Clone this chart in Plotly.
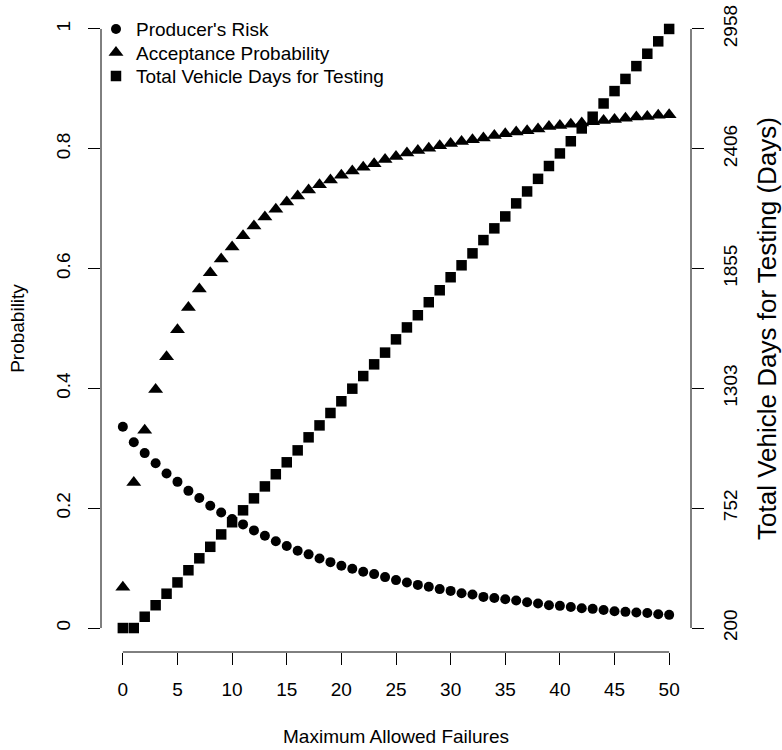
import plotly.graph_objects as go

failures = list(range(51))

producers_risk = [0.336, 0.310, 0.292, 0.275, 0.258, 0.244, 0.229, 0.217, 0.204, 0.193,
                  0.182, 0.173, 0.163, 0.154, 0.145, 0.137, 0.129, 0.123, 0.116, 0.110,
                  0.104, 0.099, 0.094, 0.090, 0.085, 0.080, 0.076, 0.072, 0.069, 0.065,
                  0.062, 0.058, 0.056, 0.052, 0.050, 0.048, 0.046, 0.043, 0.041, 0.038,
                  0.037, 0.035, 0.033, 0.032, 0.030, 0.028, 0.027, 0.026, 0.025, 0.023,
                  0.022]

acceptance_prob = [0.068, 0.243, 0.330, 0.398, 0.453, 0.498, 0.535, 0.566, 0.593, 0.616,
                   0.636, 0.655, 0.671, 0.686, 0.699, 0.711, 0.721, 0.731, 0.740, 0.748,
                   0.756, 0.763, 0.769, 0.775, 0.782, 0.787, 0.793, 0.797, 0.801, 0.805,
                   0.809, 0.812, 0.815, 0.818, 0.822, 0.825, 0.828, 0.830, 0.833, 0.837,
                   0.839, 0.841, 0.843, 0.845, 0.847, 0.849, 0.851, 0.853, 0.854, 0.856,
                   0.857]

vehicle_days = [200, 200, 252, 305, 358, 410, 466, 521, 574, 631,
                687, 742, 797, 852, 908, 963, 1018, 1078, 1133, 1190,
                1244, 1302, 1360, 1414, 1468, 1529, 1584, 1640, 1700, 1755,
                1815, 1870, 1925, 1986, 2040, 2095, 2155, 2210, 2268, 2327,
                2385, 2441, 2500, 2554, 2615, 2672, 2728, 2787, 2844, 2901,
                2958]

x_ticks = [0, 5, 10, 15, 20, 25, 30, 35, 40, 45, 50]
y_ticks = [0, 0.2, 0.4, 0.6, 0.8, 1]
y_tick_labels = ["0", "0.2", "0.4", "0.6", "0.8", "1"]
y2_ticks = [200, 752, 1303, 1855, 2406, 2958]

FONT = "Liberation Sans, Arial, Helvetica, sans-serif"
FS = 19
TXT = dict(family=FONT, size=FS, color="black")
TXT_R = dict(family=FONT, size=26, color="black")

fig = go.Figure()
fig.add_trace(go.Scatter(x=failures, y=producers_risk, mode="markers",
                         name="Producer's Risk", legend="legend",
                         marker=dict(symbol="circle", size=10, color="black", line=dict(width=0))))
fig.add_trace(go.Scatter(x=failures, y=acceptance_prob, mode="markers",
                         name="Acceptance Probability", legend="legend2",
                         marker=dict(symbol="triangle-up", size=13, color="black", line=dict(width=0))))
fig.add_trace(go.Scatter(x=failures, y=vehicle_days, mode="markers", yaxis="y2",
                         name="Total Vehicle Days for Testing", legend="legend3",
                         marker=dict(symbol="square", size=10.5, color="black", line=dict(width=0))))

xmin, xmax = x_ticks[0], x_ticks[-1]
xpad = (xmax - xmin) * 0.04
ymin, ymax = y_ticks[0], y_ticks[-1]
ypad = (ymax - ymin) * 0.04
y2min, y2max = y2_ticks[0], y2_ticks[-1]
y2pad = (y2max - y2min) * 0.04

axis_common = dict(showgrid=False, zeroline=False, showline=False, ticks="outside",
                   ticklen=12, tickwidth=1, tickcolor="black", tickfont=TXT)

legend_common = dict(x=-0.0085, xanchor="left", yanchor="top",
                     bgcolor="rgba(0,0,0,0)", borderwidth=0, font=TXT)

fig.update_layout(
    width=782, height=750,
    margin=dict(l=101, r=91, t=5, b=98, autoexpand=False),
    paper_bgcolor="white", plot_bgcolor="white",
    font=TXT,
    showlegend=True,
    legend=dict(y=0.9920, **legend_common),
    legend2=dict(y=0.9557, **legend_common),
    legend3=dict(y=0.9194, **legend_common),
    xaxis=dict(range=[xmin - xpad, xmax + xpad], tickvals=x_ticks,
               title=dict(text="Maximum Allowed Failures", standoff=30, font=TXT),
               ticklabelstandoff=8, automargin=False, **axis_common),
    yaxis=dict(range=[ymin - ypad, ymax + ypad], tickvals=y_ticks, ticktext=y_tick_labels,
               tickangle=-90,
               title=dict(text="Probability", standoff=23, font=TXT),
               ticklabelstandoff=10, automargin=False, **axis_common),
    yaxis2=dict(range=[y2min - y2pad, y2max + y2pad], tickvals=y2_ticks,
                overlaying="y", side="right", tickangle=-90,
                title=dict(text="Total Vehicle Days for Testing (Days)", standoff=25, font=TXT_R),
                ticklabelstandoff=10, automargin=False, **axis_common),
)

# axis lines spanning first to last tick (R style)
fig.add_shape(type="line", xref="x", yref="paper", x0=xmin, x1=xmax, y0=0, y1=0,
              line=dict(color="black", width=1))
fig.add_shape(type="line", xref="paper", yref="y", x0=0, x1=0, y0=ymin, y1=ymax,
              line=dict(color="black", width=1))
fig.add_shape(type="line", xref="paper", yref="y2", x0=1, x1=1, y0=y2min, y1=y2max,
              line=dict(color="black", width=1))

fig.write_html("out.html")
